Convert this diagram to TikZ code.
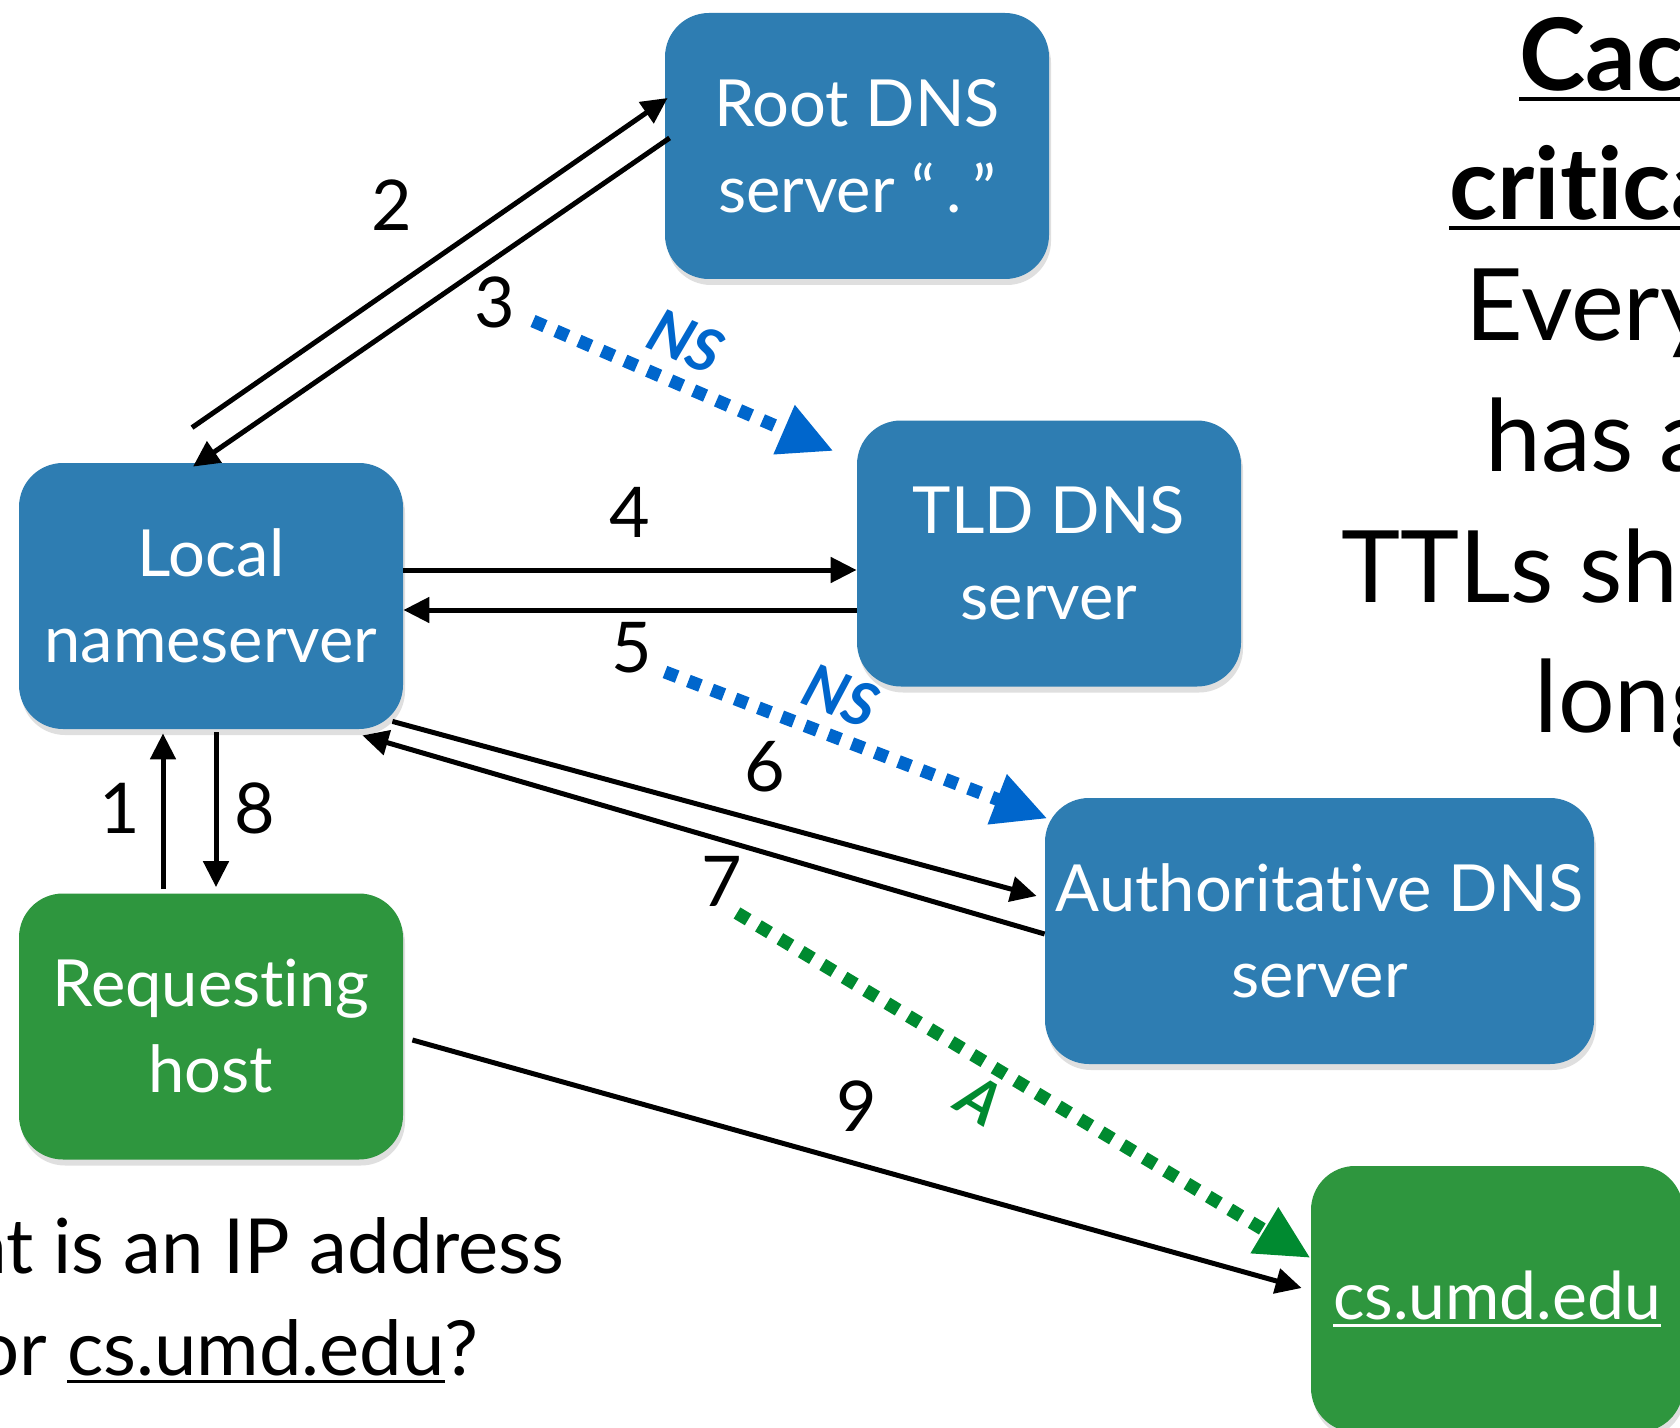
\documentclass[tikz,border=0pt]{standalone}
\usepackage{fontspec}
\setmainfont{Lato}[Ligatures={NoCommon}]
\usetikzlibrary{arrows.meta,shadows,calc}
\definecolor{boxblue}{RGB}{46,125,178}
\definecolor{boxgreen}{RGB}{46,150,62}
\definecolor{nsblue}{RGB}{0,102,204}
\definecolor{agreen}{RGB}{0,138,48}
\newcommand\ulbox[3]{\setbox0\hbox{#1}\leavevmode\rlap{\rule[-#2]{\wd0}{#3}}\box0}
\tikzset{
  box/.style={rounded corners=22pt, minimum width=#1, minimum height=133pt,
    text=white, align=center, font=\fontsize{32.5}{43}\selectfont, inner sep=0pt,
    drop shadow={shadow xshift=1pt,shadow yshift=-3pt,opacity=0.25}},
  bluebox/.style={box=#1, fill=boxblue},
  greenbox/.style={box=#1, fill=boxgreen},
  blk/.style={line width=2.5pt, -{Triangle[length=13pt,width=12.5pt]}},
  dotarrow/.style={line width=6.5pt, dash pattern=on 6.5pt off 6pt,
    -{Triangle[length=27pt,width=25pt]}, draw=#1},
  num/.style={font=\fontsize{35}{43}\selectfont, inner sep=0pt},
  rtxt/.style={font=\fontsize{50}{60}\selectfont, inner sep=0pt},
  btxt/.style={font=\fontsize{38}{46}\selectfont, inner sep=0pt},
  rr/.style={font=\fontsize{30}{36}\selectfont\bfseries\itshape, inner sep=0pt, text=#1},
}
\begin{document}
\begin{tikzpicture}[x=0.5pt,y=-0.5pt]
\useasboundingbox (0,0) rectangle (1680,1428);
\fill[white] (0,0) rectangle (1680,1428);
\clip (0,0) rectangle (1680,1428);

% boxes
\node[bluebox=192pt] (root) at (857,146) {Root DNS\\server “\,.\,”};
\node[bluebox=192pt] (tld) at (1049,553.5) {TLD DNS\\server};
\node[bluebox=192pt] (local) at (211,596) {Local\\nameserver};
\node[bluebox=274.5pt] (auth) at (1319.5,931) {Authoritative DNS\\server};
\node[greenbox=192pt] (req) at (211,1026.5) {Requesting\\host};
\node[greenbox=186pt, font=\fontsize{33}{40}\selectfont] (cs) at (1497,1299) {\ulbox{cs.umd.edu}{4pt}{1.6pt}};

% black arrows
\draw[blk] ([shift={(-19,-35)}]local.north) -- ([shift={(3,-48)}]root.west);
\draw[blk] ([shift={(5,-8)}]root.west) -- ([shift={(-18,4)}]local.north);
\draw[blk] ([shift={(0,-26)}]local.east) -- ([shift={(0,16.5)}]tld.west);
\draw[blk] ([shift={(0,56.5)}]tld.west) -- ([shift={(0,14)}]local.east);
\draw[blk] ([shift={(-11,-8)}]local.south east) -- ([shift={(-8,-35)}]auth.west);
\draw[blk] ([shift={(0,3)}]auth.west) -- ([shift={(-41,6)}]local.south east);
\draw[blk] ([shift={(-48,-4)}]req.north) -- ([shift={(-48,4)}]local.south);
\draw[blk] ([shift={(5,3)}]local.south) -- ([shift={(5,-6)}]req.north);
\draw[blk] ([shift={(9,13.5)}]req.east) -- ([shift={(-9,-11)}]cs.west);

% dotted arrows
\coordinate (ns1s) at (533,321);
\coordinate (ns2s) at (665,672);
\coordinate (as) at (737,913);
\draw[dotarrow=nsblue] (ns1s) -- ([shift={(-23,31)}]tld.north west);
\draw[dotarrow=nsblue] (ns2s) -- ([shift={(3,21)}]auth.north west);
\draw[dotarrow=agreen] (as) -- ([shift={(0,-41)}]cs.west);
\node[rr=nsblue, rotate=-23.5] (nsl1) at (686,341) {NS};
\node[rr=nsblue, rotate=-21] (nsl2) at (841,696) {NS};
\node[rr=agreen, rotate=-31] (al) at (980,1100) {A};

% step numbers
\node[num] (n1) at (120,808) {1};
\node[num] (n2) at (392,205) {2};
\node[num] (n3) at (495,302) {3};
\node[num] (n4) at (630,512) {4};
\node[num] (n5) at (632,648) {5};
\node[num] (n6) at (765,767) {6};
\node[num] (n7) at (722,881) {7};
\node[num] (n8) at (255,808) {8};
\node[num] (n9) at (857,1106) {9};

% right-hand text (cut by the frame)
\node[rtxt, anchor=base west] (r1) at (1519,91) {\ulbox{\bfseries Cac}{5pt}{2pt}};
\node[rtxt, anchor=base west] (r2) at (1449,220) {\ulbox{\bfseries critica}{5pt}{2pt}};
\node[rtxt, anchor=base west] (r3) at (1465,341) {Every};
\node[rtxt, anchor=base west] (r4) at (1485,471) {has a};
\node[rtxt, anchor=base west] (r5) at (1341,602) {TTLs sho};
\node[rtxt, anchor=base west] (r6) at (1534,732) {long};

% bottom-left question (cut by the frame)
\node[btxt, anchor=base east] (q1) at (565,1273) {at is an IP address};
\node[btxt, anchor=base east] (q2) at (479,1375) {or \ulbox{cs.umd.edu}{4pt}{1.6pt}?};
\end{tikzpicture}
\end{document}
